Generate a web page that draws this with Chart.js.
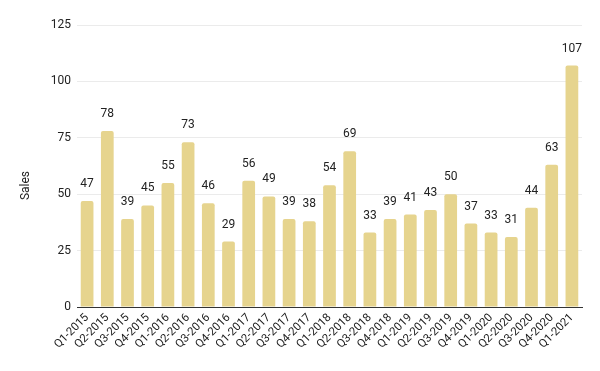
<!DOCTYPE html>
<html>
<head>
<meta charset="utf-8">
<script src="https://cdn.jsdelivr.net/npm/chart.js@4"></script>
<style>
  html, body { margin: 0; padding: 0; background: #fff; }
  #wrap { width: 600px; height: 371px; }
</style>
</head>
<body>
<div id="wrap"><canvas id="chart"></canvas></div>
<script>
const QUARTERS = [
    "Q1-2015", "Q2-2015", "Q3-2015", "Q4-2015",
    "Q1-2016", "Q2-2016", "Q3-2016", "Q4-2016",
    "Q1-2017", "Q2-2017", "Q3-2017", "Q4-2017",
    "Q1-2018", "Q2-2018", "Q3-2018", "Q4-2018",
    "Q1-2019", "Q2-2019", "Q3-2019", "Q4-2019",
    "Q1-2020", "Q2-2020", "Q3-2020", "Q4-2020",
    "Q1-2021"
];
const SALES = [
    47, 78, 39, 45,
    55, 73, 46, 29,
    56, 49, 39, 38,
    54, 69, 33, 39,
    41, 43, 50, 37,
    33, 31, 44, 63,
    107
];
const Y_TICKS = [0, 25, 50, 75, 100, 125];
const Y_TITLE = "Sales";

// values written above each bar, plus the y title centred on the whole canvas
const barLabels = {
    id: "barLabels",
    afterDatasetsDraw(chart) {
        let ctx = chart.ctx;
        let meta = chart.getDatasetMeta(0);
        ctx.save();
        ctx.font = "12px Roboto";
        ctx.fillStyle = "#222";
        ctx.textAlign = "center";
        ctx.textBaseline = "bottom";
        meta.data.forEach(function (bar, i) {
            ctx.fillText(String(SALES[i]), bar.x, bar.y - 11);
        });

        ctx.translate(26, chart.height / 2);
        ctx.rotate(-Math.PI / 2);
        ctx.textBaseline = "middle";
        ctx.fillText(Y_TITLE, 0, 0);
        ctx.restore();
    }
};

new Chart(document.getElementById("chart"), {
    type: "bar",
    data: {
        labels: QUARTERS,
        datasets: [{
            label: "Sales",
            data: SALES,
            backgroundColor: "#e6d48e",
            borderRadius: { topLeft: 2, topRight: 2 },
            borderSkipped: "bottom",
            categoryPercentage: 1,
            barPercentage: 0.63
        }]
    },
    options: {
        responsive: true,
        maintainAspectRatio: false,
        animation: false,
        layout: { padding: { top: 25, right: 18, left: 0, bottom: 0 } },
        plugins: {
            legend: { display: false },
            tooltip: { enabled: false }
        },
        scales: {
            x: {
                grid: { display: false, drawTicks: false },
                border: { color: "#333", width: 1 },
                ticks: {
                    color: "#222",
                    font: { family: "Roboto", size: 11.5 },
                    minRotation: 45,
                    maxRotation: 45,
                    autoSkip: false,
                    padding: 4
                },
                afterFit: function (scale) { scale.height = 64; }
            },
            y: {
                min: 0,
                max: 125,
                afterBuildTicks: function (scale) {
                    scale.ticks = Y_TICKS.map(v => ({ value: v }));
                },
                grid: { color: "#ebebeb", drawTicks: false },
                border: { display: false },
                ticks: {
                    color: "#222",
                    font: { family: "Roboto", size: 12 },
                    padding: 6
                },
                afterFit: function (scale) { scale.width = 77; }
            }
        }
    },
    plugins: [barLabels]
});
</script>
</body>
</html>
